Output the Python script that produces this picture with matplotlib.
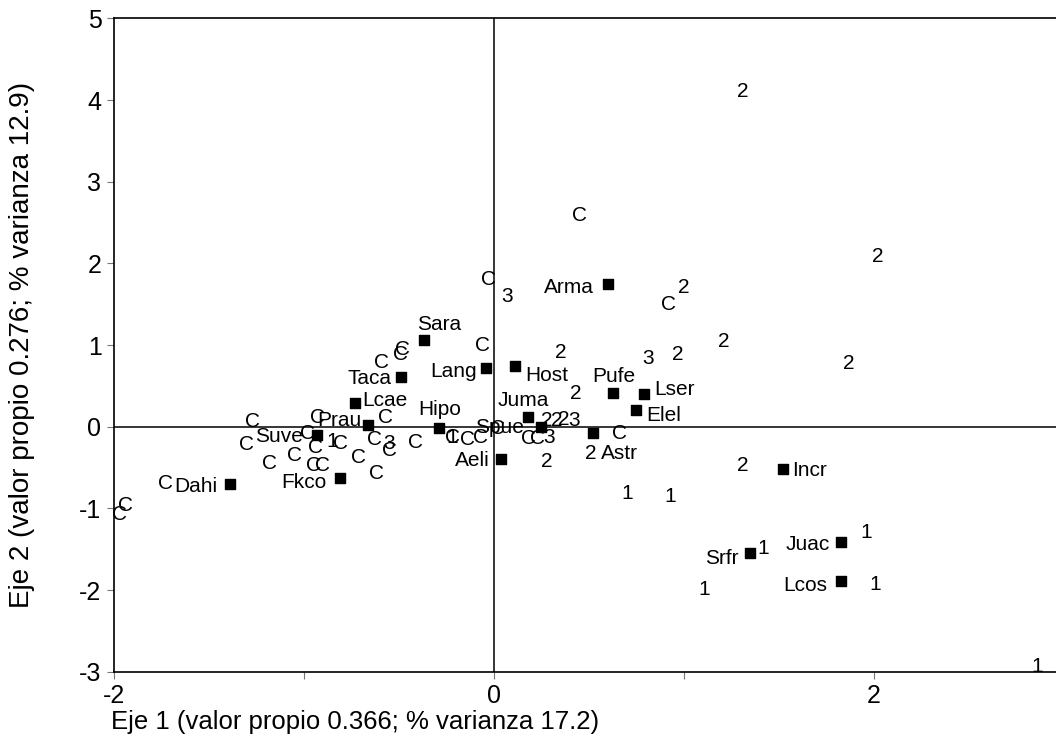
import matplotlib.pyplot as plt

plt.rcParams['font.family'] = ['Liberation Sans', 'DejaVu Sans']
plt.rcParams['axes.unicode_minus'] = False

# species scores (squares + names)
species = ["Dahi", "Fkco", "Suve", "Prau", "Lcae", "Taca", "Sara", "Hipo",
           "Lang", "Host", "Juma", "Spue", "Aeli", "Astr", "Arma", "Pufe",
           "Lser", "Elel", "Incr", "Srfr", "Juac", "Lcos"]
sp_x = [-1.39, -0.81, -0.93, -0.66, -0.73, -0.49, -0.37, -0.29,
        -0.04, 0.11, 0.18, 0.25, 0.04, 0.52, 0.60, 0.63,
        0.79, 0.75, 1.52, 1.35, 1.83, 1.83]
sp_y = [-0.70, -0.63, -0.10, 0.02, 0.29, 0.61, 1.06, -0.02,
        0.72, 0.74, 0.12, 0.00, -0.40, -0.08, 1.75, 0.41,
        0.40, 0.20, -0.52, -1.55, -1.41, -1.89]

# site scores, one list per group symbol
c_x = [0.45, -0.03, 0.92, -0.06, -0.59, -0.49, -0.48, -0.57, -1.27, -0.93,
       -0.98, -1.30, -0.81, -1.18, -1.05, -0.94, -0.95, -0.90, -0.63, -0.55,
       -0.41, -0.71, -0.62, -1.73, -1.94, -1.97, -0.22, -0.14, -0.07, 0.02,
       0.18, 0.23, 0.66]
c_y = [2.59, 1.80, 1.50, 0.99, 0.79, 0.88, 0.94, 0.11, 0.06, 0.11,
       -0.08, -0.22, -0.20, -0.45, -0.35, -0.26, -0.47, -0.47, -0.16, -0.29,
       -0.19, -0.38, -0.57, -0.69, -0.97, -1.07, -0.13, -0.16, -0.13, -0.02,
       -0.14, -0.14, -0.08]
g1_x = [0.70, 0.93, 1.42, 1.96, 2.01, 1.11, 2.86, -0.85, -0.22]
g1_y = [-0.82, -0.86, -1.49, -1.30, -1.93, -1.99, -2.94, -0.18, -0.13]
g2_x = [1.31, 2.02, 1.00, 1.21, 0.97, 1.87, 0.35, 0.43, 0.28, 0.33, 0.37,
        0.28, 0.51, 1.31]
g2_y = [4.11, 2.09, 1.70, 1.04, 0.89, 0.78, 0.91, 0.41, 0.07, 0.08, 0.09,
        -0.43, -0.33, -0.47]
g3_x = [0.07, 0.81, -0.55, 0.29, 0.42]
g3_y = [1.59, 0.83, -0.20, -0.13, 0.08]

# where each species name sits relative to its square (pixels, ha)
LABEL_POS = {
    "Dahi": (-12, -3, "right"), "Fkco": (-14, -4, "right"),
    "Suve": (-14, -2, "right"), "Prau": (-7, 5, "right"),
    "Lcae": (7, 3, "left"), "Taca": (-9, -2, "right"),
    "Sara": (16, 16, "center"), "Hipo": (1, 19, "center"),
    "Lang": (-9, -4, "right"), "Host": (11, -9, "left"),
    "Juma": (-5, 16, "center"), "Spue": (-17, -1, "right"),
    "Aeli": (-12, -1, "right"), "Astr": (8, -20, "left"),
    "Arma": (-14, -4, "right"), "Pufe": (0, 17, "center"),
    "Lser": (10, 5, "left"), "Elel": (10, -5, "left"),
    "Incr": (10, -1, "left"), "Srfr": (-12, -5, "right"),
    "Juac": (-12, -3, "right"), "Lcos": (-14, -4, "right"),
}

fig = plt.figure(figsize=(10.56, 7.49), dpi=100)
ax = fig.add_axes([114 / 1056, 1 - 671.7 / 749, 1 - 114 / 1056, (671.7 - 18.4) / 749])

ax.set_xlim(-2, 2.96)
ax.set_ylim(-3, 5)
ax.axhline(0, color="black", lw=1.1, zorder=1)
ax.axvline(0, color="black", lw=1.1, zorder=1)

ax.scatter(sp_x, sp_y, marker="s", s=60, color="black", zorder=3)
for name, x, y in zip(species, sp_x, sp_y):
    dx, dy, ha = LABEL_POS[name]
    ax.annotate(name, (x, y), xytext=(dx, dy), textcoords="offset pixels",
                ha=ha, va="center", fontsize=15)

for sym, xs, ys in [("C", c_x, c_y), ("1", g1_x, g1_y),
                    ("2", g2_x, g2_y), ("3", g3_x, g3_y)]:
    for x, y in zip(xs, ys):
        ax.text(x, y, sym, ha="center", va="center", fontsize=15, zorder=4)

ax.set_xticks([-2, -1, 0, 1, 2])
ax.set_xticklabels(["-2", "", "0", "", "2"])
ax.set_yticks(range(-3, 6))
ax.tick_params(direction="out", length=5, width=0.8, color="#777777",
               labelsize=18, pad=4)
ax.spines["right"].set_visible(False)
for s in ["left", "top", "bottom"]:
    ax.spines[s].set_linewidth(1.2)

fig.text(355 / 1056, 1 - 722 / 749, "Eje 1 (valor propio 0.366; % varianza 17.2)",
         ha="center", va="center", fontsize=18.5)
fig.text(22 / 1056, 1 - 345 / 749, "Eje 2 (valor propio 0.276; % varianza 12.9)",
         ha="center", va="center", rotation=90, fontsize=20)

fig.savefig("out.png", dpi=100)
